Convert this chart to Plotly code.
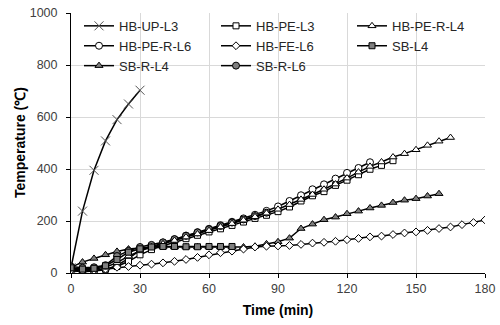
import plotly.graph_objects as go

step = 5
t_up = list(range(0, 31, step))
hb_up_l3 = [20, 238, 395, 508, 590, 650, 703]

t_pe_l3 = list(range(0, 141, step))
hb_pe_l3 = [10, 8, 10, 15, 25, 45, 70, 90, 105, 118, 132, 145, 158, 170, 183, 196,
            210, 222, 236, 254, 277, 297, 313, 337, 357, 378, 399, 414, 432]

t_pe_r_l4 = list(range(0, 166, step))
hb_pe_r_l4 = [15, 12, 15, 22, 40, 65, 85, 100, 112, 125, 138, 150, 163, 177, 190, 203,
              216, 230, 245, 263, 283, 302, 322, 342, 365, 388, 410, 427, 446, 459,
              474, 491, 507, 521]

t_pe_r_l6 = list(range(0, 131, step))
hb_pe_r_l6 = [10, 5, 8, 12, 30, 55, 88, 102, 117, 130, 144, 157, 170, 184, 197, 210,
              224, 239, 256, 277, 299, 322, 341, 363, 385, 404, 426]

t_fe_l6 = list(range(0, 181, step))
hb_fe_l6 = [10, 8, 10, 15, 22, 25, 30, 34, 39, 45, 52, 60, 70, 78, 84, 92, 100, 103,
            104, 106, 110, 115, 118, 122, 128, 133, 139, 142, 148, 154, 158, 164,
            171, 177, 186, 194, 204]

t_sb_l4 = list(range(0, 71, step))
sb_l4 = [20, 15, 18, 28, 52, 80, 93, 100, 102, 102, 101, 101, 102, 102, 102]

t_sb_r_l4 = list(range(0, 161, step))
sb_r_l4 = [22, 42, 56, 70, 83, 92, 97, 100, 100, 100, 100, 100, 100, 100, 100, 100,
           103, 112, 120, 134, 171, 188, 205, 215, 228, 238, 250, 260, 271, 280,
           286, 296, 305]

t_sb_r_l6 = list(range(0, 86, step))
sb_r_l6 = [25, 20, 22, 30, 65, 85, 100, 108, 118, 130, 143, 156, 168, 181, 194, 206,
           219, 232]

x_ticks = [0, 30, 60, 90, 120, 150, 180]
y_ticks = [0, 200, 400, 600, 800, 1000]

GRAY = "#7f7f7f"
WHITE = "#ffffff"

series = [
    # name, x, y, symbol, fill, size, legend, rank
    ("HB-UP-L3", t_up, hb_up_l3, "x-thin", GRAY, 9, "legend", 1),
    ("HB-PE-R-L6", t_pe_r_l6, hb_pe_r_l6, "circle", WHITE, 7, "legend", 2),
    ("SB-R-L4", t_sb_r_l4, sb_r_l4, "triangle-up", GRAY, 7, "legend", 3),
    ("HB-PE-L3", t_pe_l3, hb_pe_l3, "square", WHITE, 6, "legend2", 1),
    ("HB-FE-L6", t_fe_l6, hb_fe_l6, "diamond", WHITE, 6, "legend2", 2),
    ("SB-R-L6", t_sb_r_l6, sb_r_l6, "circle", GRAY, 7, "legend2", 3),
    ("HB-PE-R-L4", t_pe_r_l4, hb_pe_r_l4, "triangle-up", WHITE, 7, "legend3", 1),
    ("SB-L4", t_sb_l4, sb_l4, "square", GRAY, 6, "legend3", 2),
]

fig = go.Figure()
for name, xs, ys, sym, fill, size, leg, rank in series:
    if sym == "x-thin":
        marker = dict(symbol=sym, size=size, color=GRAY, line=dict(color="#555555", width=1))
    else:
        marker = dict(symbol=sym, size=size, color=fill, line=dict(color="#000000", width=1))
    fig.add_trace(go.Scatter(
        x=xs, y=ys, name=name, mode="lines+markers",
        line=dict(color="#000000", width=1.5),
        marker=marker, legend=leg, legendrank=rank,
    ))

legend_common = dict(
    yref="container", xref="container",
    yanchor="top", y=0.9665, xanchor="left",
    bgcolor="rgba(0,0,0,0)", borderwidth=0,
    font=dict(family="Liberation Sans, Arial, sans-serif", size=13, color="#262626"),
    tracegroupgap=0, itemwidth=30,
)

fig.update_layout(
    width=500, height=325,
    margin=dict(l=71, r=15, t=13, b=52, autoexpand=False),
    plot_bgcolor="#ffffff", paper_bgcolor="#ffffff",
    font=dict(family="Liberation Sans, Arial, sans-serif", size=12, color="#404040"),
    showlegend=True,
    legend=dict(x=0.158, **legend_common),
    legend2=dict(x=0.432, **legend_common),
    legend3=dict(x=0.704, **legend_common),
    xaxis=dict(
        range=[0, 180], tickvals=x_ticks, ticktext=[str(v) for v in x_ticks],
        showgrid=True, gridcolor="#d9d9d9", gridwidth=1,
        showline=True, linecolor="#000000", linewidth=1,
        ticks="outside", ticklen=4, tickcolor="#000000",
        zeroline=False, automargin=False,
        tickfont=dict(size=12.5, color="#404040"),
        title=dict(text="<b>Time (min)</b>", font=dict(size=14, color="#000000"), standoff=10),
    ),
    yaxis=dict(
        range=[0, 1000], tickvals=y_ticks, ticktext=[str(v) for v in y_ticks],
        showgrid=True, gridcolor="#d9d9d9", gridwidth=1,
        showline=True, linecolor="#000000", linewidth=1,
        ticks="outside", ticklen=4, tickcolor="#000000",
        ticklabelstandoff=6,
        zeroline=False, automargin=False,
        tickfont=dict(size=12.5, color="#404040"),
    ),
    annotations=[dict(
        text="<b>Temperature (℃)</b>", textangle=-90,
        xref="paper", yref="paper", x=-0.123, y=0.5,
        xanchor="center", yanchor="middle", showarrow=False,
        font=dict(family="Liberation Sans, Arial, sans-serif", size=14, color="#000000"),
    )],
)

fig.write_html("out.html")
